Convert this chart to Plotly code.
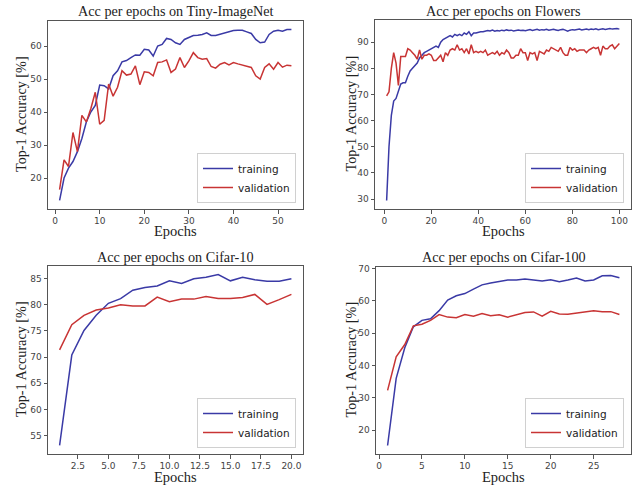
import plotly.graph_objects as go

# ---------------- data ----------------
tiny_train = [13.2, 20, 23, 25, 28, 32, 37, 40, 42, 48.2, 48, 47, 51, 52.5, 55.2, 55.6, 56.5, 57.3, 57.2, 59,
              58.8, 57, 60, 60.5, 62.3, 62, 61, 60.5, 62, 62.5, 63.2, 63.3, 63.5, 64, 63.2, 63.2, 63.6, 64, 64.3, 64.7,
              64.8, 64.8, 64.3, 63.8, 62, 61, 61.2, 63.5, 64.5, 64.8, 64.5, 65, 65]
tiny_val = [16.5, 25.5, 23.5, 33.8, 28, 39, 37, 41, 46, 36.3, 37.5, 48.5, 44.8, 47.5, 52.5, 51.2, 51.5, 54, 48.3, 52.2,
            52, 51, 55, 55.2, 55.8, 52, 53, 56.5, 53.5, 55.5, 58, 56.5, 56, 56.2, 53.8, 53.3, 54.5, 55, 54.3, 55,
            54.6, 54.2, 53.8, 53.5, 51, 50, 53.5, 54.6, 53, 55, 53.6, 54.2, 54]

flowers_train = [29.5, 50, 62, 67.5, 68.5, 71, 74, 74.5, 74.5, 77, 79, 80, 81, 82, 84, 85, 86, 86.5, 87, 87.5,
                 88, 88.5, 88, 90, 91, 91.5, 92, 92.5, 92, 93, 92.5, 93, 92.5, 93.5, 93, 94, 92.5, 93.5, 93.5, 93.8,
                 94, 94, 94.2, 94.5, 94.3, 94.6, 94.2, 94.5, 94.3, 94.6, 94.4, 94.7, 94.5, 94.6, 94.3, 94.5, 94.7, 94.5, 94.6, 94.4,
                 94.6, 94.8, 94.5, 94.7, 94.9, 94.6, 94.8, 94.7, 94.9, 94.6, 94.8, 94.9, 94.7, 94.5, 94.8, 94.9, 94.6, 94.2, 94.6, 94.8,
                 94.7, 94.9, 95, 94.7, 94.9, 95, 94.8, 95, 94.9, 95.1, 94.8, 95, 95.1, 94.9, 95.1, 95.2, 95, 95.1, 95.2, 95]
flowers_val = [69.5, 71, 80, 86, 82, 73.5, 84.5, 84.5, 84.5, 87.5, 87, 86, 85, 83.5, 87, 83.5, 85, 85, 85.5, 85,
               83, 83, 84, 85, 82.5, 86, 85, 87, 87.5, 87, 89, 87, 87.5, 86, 87.5, 85.5, 89, 86, 86.5, 86,
               86.5, 86, 87, 85, 85.5, 86, 85.5, 86.5, 85, 86, 85.5, 87, 86, 84, 84, 85, 85, 87.5, 86, 86,
               83, 86, 85.5, 86, 83, 86.5, 86, 85.5, 87, 86.5, 88, 87.5, 87, 86.5, 88, 86, 85, 85, 88, 87,
               87.5, 86.5, 87, 87, 87, 86, 87, 87.5, 88, 87.5, 88, 85, 88.5, 87.5, 87.5, 88.5, 89, 87.5, 88.5, 89.5]

c10_train = [53.1, 70.4, 75.1, 78, 80.3, 81.2, 82.8, 83.3, 83.6, 84.6, 84.1, 85, 85.3, 85.8, 84.6, 85.3, 84.8, 84.5, 84.5, 85]
c10_val = [71.4, 76.2, 78, 79, 79.4, 80, 79.8, 79.8, 81.5, 80.6, 81.1, 81.1, 81.6, 81.2, 81.2, 81.4, 82, 80.1, 81, 82]

c100_train = [15.2, 36, 45.5, 52, 54, 54.5, 57, 60.3, 61.6, 62.3, 63.7, 65, 65.6, 66, 66.5, 66.5, 66.8, 66.5, 66.2, 66.6,
              66, 66.5, 67.1, 66.2, 66.5, 67.8, 67.9, 67.2]
c100_val = [32.3, 42.7, 46.5, 52.3, 52.8, 54, 55.8, 55, 54.8, 55.8, 55.3, 56.1, 55.4, 55.7, 55, 55.6, 56.4, 56.6, 55.3, 56.8,
            56, 55.9, 56.2, 56.5, 57, 56.7, 56.7, 55.8]

titles = ["Acc per epochs on Tiny-ImageNet", "Acc per epochs on Flowers",
          "Acc per epochs on Cifar-10", "Acc per epochs on Cifar-100"]
series = [(tiny_train, tiny_val), (flowers_train, flowers_val), (c10_train, c10_val), (c100_train, c100_val)]
xticks = [[0, 10, 20, 30, 40, 50], [0, 20, 40, 60, 80, 100],
          [2.5, 5.0, 7.5, 10.0, 12.5, 15.0, 17.5, 20.0], [0, 5, 10, 15, 20, 25]]
xticktext = [None, None, ["2.5", "5.0", "7.5", "10.0", "12.5", "15.0", "17.5", "20.0"], None]
yticks = [[20, 30, 40, 50, 60], [30, 40, 50, 60, 70, 80, 90], [55, 60, 65, 70, 75, 80, 85], [20, 30, 40, 50, 60, 70]]

# ---------------- layout geometry (pixels) ----------------
W, H = 643, 488
boxes = [(48, 303, 21, 209), (375, 631, 20, 209), (48, 303, 266, 454), (376, 631, 267, 454)]
title_y = [11, 11, 257, 257]
xlab_y = [231, 231, 477, 477]
ylab_x = [21, 350, 21, 350]

BLUE = "#3a3aa6"
RED = "#c83434"
SERIF = "Liberation Serif, Times New Roman, serif"
SANS = "DejaVu Sans, sans-serif"

fig = go.Figure()
layout = dict(width=W, height=H, margin=dict(l=0, r=0, t=0, b=0), template="none",
              paper_bgcolor="white", plot_bgcolor="white", annotations=[])


def ann(text, x, y, size, angle=0):
    return dict(text=text, x=x / W, y=1 - y / H, xref="paper", yref="paper", xanchor="center",
                yanchor="middle", showarrow=False, textangle=angle,
                font=dict(family=SERIF, size=size, color="#222"))


for i, ((tr, va), title, box) in enumerate(zip(series, titles, boxes)):
    n = i + 1
    xa = "x" if n == 1 else f"x{n}"
    ya = "y" if n == 1 else f"y{n}"
    lg = "legend" if n == 1 else f"legend{n}"
    ep = list(range(1, len(tr) + 1))
    fig.add_trace(go.Scatter(x=ep, y=tr, mode="lines", name="training", line=dict(color=BLUE, width=1.5),
                             xaxis=xa, yaxis=ya, legend=lg))
    fig.add_trace(go.Scatter(x=ep, y=va, mode="lines", name="validation", line=dict(color=RED, width=1.5),
                             xaxis=xa, yaxis=ya, legend=lg))
    x0, x1, y0, y1 = box
    xd = [x0 / W, x1 / W]
    yd = [1 - y1 / H, 1 - y0 / H]
    xmin, xmax = 1, len(tr)
    xm = (xmax - xmin) * 0.05
    allv = tr + va
    vmin, vmax = min(allv), max(allv)
    ym = (vmax - vmin) * 0.05
    axcommon = dict(showline=True, linecolor="#555", linewidth=1, mirror=True, ticks="outside",
                    ticklen=3.5, tickcolor="#555", showgrid=False, zeroline=False, automargin=False,
                    tickfont=dict(family=SANS, size=9, color="#444"))
    xkey = "xaxis" if n == 1 else f"xaxis{n}"
    ykey = "yaxis" if n == 1 else f"yaxis{n}"
    xdict = dict(domain=xd, anchor=ya, range=[xmin - xm, xmax + xm], tickvals=xticks[i], **axcommon)
    if xticktext[i]:
        xdict["ticktext"] = xticktext[i]
    layout[xkey] = xdict
    layout[ykey] = dict(domain=yd, anchor=xa, range=[vmin - ym, vmax + ym], tickvals=yticks[i], **axcommon)
    layout["annotations"].append(ann(title, (x0 + x1) / 2, title_y[i], 14.2))
    layout["annotations"].append(ann("Epochs", (x0 + x1) / 2, xlab_y[i], 14.5))
    layout["annotations"].append(ann("Top-1 Accuracy [%]", ylab_x[i], (y0 + y1) / 2 - 1, 14.2, -90))
    layout[lg] = dict(x=(x1 - 7) / W, y=1 - (y1 - 6) / H, xanchor="right", yanchor="bottom",
                      bgcolor="rgba(255,255,255,0.85)", bordercolor="#d0d0d0", borderwidth=1,
                      font=dict(family=SANS, size=10.5, color="#222"), tracegroupgap=0,
                      itemwidth=30)

fig.update_layout(**layout)
fig.write_html("out.html", config={"displayModeBar": False},
               post_script="document.body.style.margin='0';document.body.style.padding='0';")
